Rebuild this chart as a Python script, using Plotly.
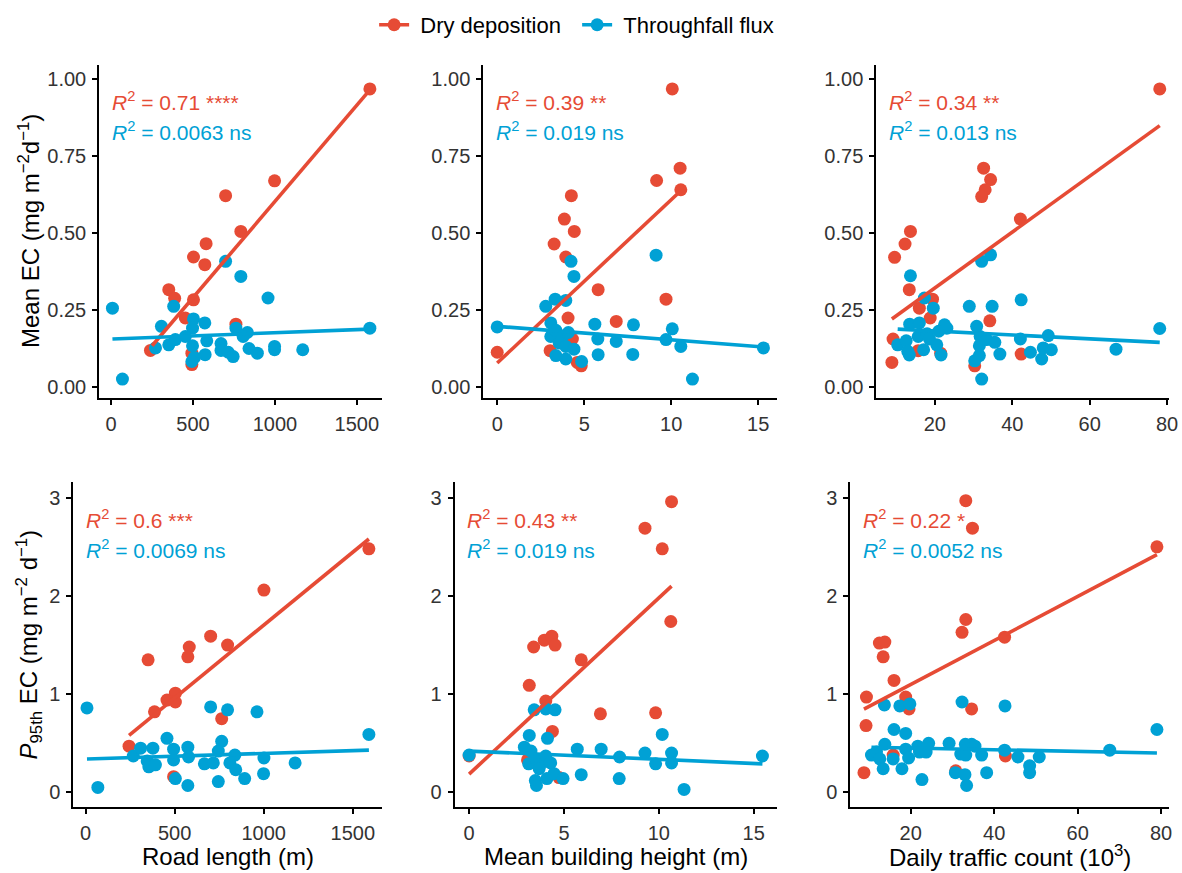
import plotly.graph_objects as go

W, H = 1182, 873
RED = "#E64B35"
BLUE = "#00A1D5"

# ---------------- data ----------------
# Panel 1: road length vs mean EC
p1_dry_x = [1580, 998, 699, 792, 580, 503, 572, 352, 388, 503, 453, 762, 240, 493, 493]
p1_dry_y = [0.968, 0.670, 0.622, 0.506, 0.466, 0.423, 0.398, 0.317, 0.289, 0.284, 0.225, 0.205, 0.120, 0.111, 0.074]
p1_tf_x = [8, 69, 699, 792, 958, 382, 307, 503, 572, 497, 762, 832, 806, 1580, 271, 352, 392, 453, 584, 497,
           671, 671, 715, 745, 842, 893, 998, 998, 1170, 574, 509, 493]
p1_tf_y = [0.257, 0.027, 0.409, 0.360, 0.290, 0.263, 0.198, 0.222, 0.209, 0.192, 0.192, 0.178, 0.165, 0.192,
           0.128, 0.138, 0.155, 0.165, 0.151, 0.135, 0.142, 0.120, 0.114, 0.100, 0.126, 0.111, 0.133, 0.122,
           0.122, 0.106, 0.097, 0.084]
p1_fit_dry_x = [250, 1580]
p1_fit_dry_y = [0.135, 0.965]
p1_fit_tf_x = [8, 1580]
p1_fit_tf_y = [0.157, 0.189]

# Panel 2: building height vs mean EC
p2_dry_x = [10.06, 10.51, 9.16, 10.55, 4.26, 3.86, 4.43, 3.27, 3.94, 5.80, 9.70, 4.07, 6.84, 0.0, 3.04, 4.32, 4.60, 4.83]
p2_dry_y = [0.968, 0.711, 0.671, 0.641, 0.622, 0.546, 0.506, 0.465, 0.423, 0.317, 0.286, 0.225, 0.214, 0.114,
            0.119, 0.157, 0.081, 0.070]
p2_tf_x = [0.0, 4.24, 4.41, 9.13, 2.79, 3.33, 3.94, 3.08, 3.08, 3.37, 3.75, 4.09, 3.56, 3.94, 4.41, 3.37, 3.94,
           4.85, 5.61, 5.78, 5.80, 6.84, 7.83, 7.79, 9.70, 10.06, 10.55, 11.22, 15.30]
p2_tf_y = [0.196, 0.409, 0.360, 0.429, 0.263, 0.286, 0.282, 0.209, 0.165, 0.185, 0.165, 0.178, 0.144, 0.133,
           0.124, 0.103, 0.092, 0.084, 0.205, 0.157, 0.106, 0.149, 0.203, 0.107, 0.155, 0.190, 0.133, 0.027, 0.128]
p2_fit_dry_x = [0.0, 10.55]
p2_fit_dry_y = [0.079, 0.638]
p2_fit_tf_x = [0.0, 15.3]
p2_fit_tf_y = [0.198, 0.131]

# Panel 3: traffic count vs mean EC
p3_dry_x = [78.1, 42.1, 32.6, 34.4, 33.0, 32.1, 13.7, 12.3, 9.6, 13.4, 19.4, 16.0, 18.8, 34.2, 9.2, 15.7, 21.5,
            42.3, 8.9, 30.3]
p3_dry_y = [0.968, 0.546, 0.711, 0.674, 0.641, 0.619, 0.506, 0.465, 0.422, 0.317, 0.286, 0.257, 0.225, 0.216,
            0.157, 0.119, 0.111, 0.108, 0.081, 0.070]
p3_tf_x = [78.1, 66.8, 13.7, 32.1, 34.4, 17.3, 19.6, 28.9, 34.8, 42.3, 10.4, 12.6, 13.5, 16.0, 15.7, 13.0, 13.4,
           17.1, 18.0, 18.6, 20.5, 21.6, 21.0, 22.5, 23.1, 30.8, 31.7, 31.5, 33.4, 35.5, 36.8, 30.3, 31.5, 32.1,
           42.1, 44.7, 47.6, 48.0, 49.3, 50.1]
p3_tf_y = [0.191, 0.124, 0.362, 0.409, 0.430, 0.290, 0.257, 0.263, 0.263, 0.284, 0.138, 0.151, 0.205, 0.209,
           0.165, 0.117, 0.105, 0.122, 0.174, 0.157, 0.138, 0.105, 0.182, 0.203, 0.192, 0.198, 0.165, 0.135,
           0.155, 0.146, 0.108, 0.086, 0.103, 0.027, 0.157, 0.114, 0.092, 0.128, 0.168, 0.122]
p3_fit_dry_x = [8.9, 78.1]
p3_fit_dry_y = [0.222, 0.849]
p3_fit_tf_x = [10.4, 78.1]
p3_fit_tf_y = [0.189, 0.146]

# Panel 4: road length vs P95 EC
p4_dry_x = [1590, 1001, 702, 797, 582, 574, 351, 504, 457, 504, 387, 764, 244, 494]
p4_dry_y = [2.48, 2.06, 1.59, 1.50, 1.48, 1.38, 1.35, 1.01, 0.94, 0.92, 0.82, 0.75, 0.47, 0.16]
p4_tf_x = [8, 69, 1590, 702, 797, 962, 457, 764, 268, 309, 378, 346, 355, 392, 494, 494, 574, 578, 504, 574, 667,
           717, 745, 745, 810, 838, 843, 893, 1001, 999, 1176]
p4_tf_y = [0.86, 0.05, 0.59, 0.87, 0.84, 0.82, 0.55, 0.52, 0.37, 0.45, 0.45, 0.32, 0.26, 0.28, 0.44, 0.33, 0.46,
           0.36, 0.14, 0.07, 0.29, 0.30, 0.42, 0.11, 0.30, 0.38, 0.23, 0.14, 0.35, 0.19, 0.30]
p4_fit_dry_x = [244, 1590]
p4_fit_dry_y = [0.58, 2.58]
p4_fit_tf_x = [8, 1590]
p4_fit_tf_y = [0.34, 0.43]

# Panel 5: building height vs P95 EC
p5_dry_x = [10.67, 9.27, 10.18, 10.63, 3.40, 3.96, 4.36, 4.53, 5.91, 3.17, 4.04, 6.92, 9.83, 4.39, 0.0, 3.08, 4.74]
p5_dry_y = [2.96, 2.69, 2.48, 1.74, 1.48, 1.55, 1.59, 1.50, 1.35, 1.09, 0.93, 0.80, 0.81, 0.62, 0.37, 0.33, 0.15]
p5_tf_x = [0.0, 15.46, 11.33, 3.43, 4.04, 4.53, 3.17, 4.13, 10.18, 2.91, 3.26, 3.14, 3.52, 3.78, 4.04, 4.30, 3.69,
           3.49, 3.55, 4.10, 4.48, 4.95, 5.70, 5.91, 6.96, 7.93, 7.91, 9.27, 9.83, 10.67, 10.67]
p5_tf_y = [0.38, 0.37, 0.03, 0.84, 0.85, 0.84, 0.58, 0.55, 0.59, 0.46, 0.42, 0.29, 0.34, 0.29, 0.37, 0.30, 0.24,
           0.12, 0.07, 0.14, 0.19, 0.14, 0.44, 0.18, 0.44, 0.36, 0.14, 0.40, 0.29, 0.40, 0.30]
p5_fit_dry_x = [0.0, 10.67]
p5_fit_dry_y = [0.186, 2.10]
p5_fit_tf_x = [0.0, 15.46]
p5_fit_tf_y = [0.42, 0.29]

# Panel 6: traffic count vs P95 EC
p6_dry_x = [79.0, 33.2, 34.8, 33.2, 32.3, 42.5, 12.5, 13.8, 13.4, 16.0, 9.4, 18.8, 19.6, 34.6, 9.3, 15.8, 42.7,
            8.8, 30.8]
p6_dry_y = [2.50, 2.97, 2.69, 1.76, 1.63, 1.58, 1.52, 1.53, 1.38, 1.14, 0.97, 0.97, 0.85, 0.85, 0.68, 0.38, 0.37,
            0.20, 0.22]
p6_tf_x = [79.0, 67.7, 13.7, 17.4, 19.8, 32.3, 42.6, 16.0, 18.8, 10.6, 11.8, 13.8, 12.6, 15.8, 13.4, 17.9, 18.8,
           19.5, 21.7, 22.1, 23.7, 24.3, 22.7, 29.2, 32.0, 33.1, 33.2, 34.6, 35.4, 37.0, 30.7, 33.0, 33.4, 38.2,
           42.5, 45.7, 48.5, 48.5, 50.8]
p6_tf_y = [0.64, 0.43, 0.89, 0.88, 0.90, 0.92, 0.88, 0.64, 0.60, 0.38, 0.41, 0.49, 0.34, 0.34, 0.24, 0.24, 0.44,
           0.35, 0.47, 0.41, 0.41, 0.50, 0.13, 0.50, 0.39, 0.49, 0.38, 0.49, 0.47, 0.38, 0.20, 0.18, 0.07, 0.20,
           0.43, 0.36, 0.27, 0.20, 0.36]
p6_fit_dry_x = [8.8, 79.0]
p6_fit_dry_y = [0.847, 2.42]
p6_fit_tf_x = [10.6, 79.0]
p6_fit_tf_y = [0.46, 0.40]

r2_dry = ["0.71 ****", "0.39 **", "0.34 **", "0.6 ***", "0.43 **", "0.22 *"]
r2_tf = ["0.0063 ns", "0.019 ns", "0.013 ns", "0.0069 ns", "0.019 ns", "0.0052 ns"]

x_titles = ["Road length (m)", "Mean building height (m)", "Daily traffic count (10<sup>3</sup>)"]
y_titles = ["Mean EC (mg m<sup>\u22122</sup>d<sup>\u22121</sup>)",
            "<i>P</i><sub>95th</sub> EC (mg m<sup>\u22122</sup> d<sup>\u22121</sup>)"]
legend_names = ["Dry deposition", "Throughfall flux"]

x_ticks = [[0, 500, 1000, 1500], [0, 5, 10, 15], [20, 40, 60, 80]]
top_y_ticks = [0.0, 0.25, 0.5, 0.75, 1.0]
bot_y_ticks = [0, 1, 2, 3]

# ---------------- layout geometry (pixels) ----------------
panels_px = [  # x0, x1, y0(top), y1(bottom)
    (100, 385, 65, 398), (487, 783, 65, 398), (883, 1178, 65, 398),
    (74, 385, 483, 808), (458, 783, 483, 808), (857, 1178, 483, 808),
]
x_ranges = [(-72.7, 1654.5), (-0.80, 16.08), (4.87, 80.5),
            (-68, 1664), (-0.77, 16.23), (5.57, 81.9)]
y_ranges = [(-0.033, 1.046)] * 3 + [(-0.15, 3.156)] * 3
x_minor = [250, 2.5, 10, 250, 2.5, 10]
y_minor = [0.125] * 3 + [0.5] * 3

panel_data = [
    (p1_dry_x, p1_dry_y, p1_tf_x, p1_tf_y, p1_fit_dry_x, p1_fit_dry_y, p1_fit_tf_x, p1_fit_tf_y),
    (p2_dry_x, p2_dry_y, p2_tf_x, p2_tf_y, p2_fit_dry_x, p2_fit_dry_y, p2_fit_tf_x, p2_fit_tf_y),
    (p3_dry_x, p3_dry_y, p3_tf_x, p3_tf_y, p3_fit_dry_x, p3_fit_dry_y, p3_fit_tf_x, p3_fit_tf_y),
    (p4_dry_x, p4_dry_y, p4_tf_x, p4_tf_y, p4_fit_dry_x, p4_fit_dry_y, p4_fit_tf_x, p4_fit_tf_y),
    (p5_dry_x, p5_dry_y, p5_tf_x, p5_tf_y, p5_fit_dry_x, p5_fit_dry_y, p5_fit_tf_x, p5_fit_tf_y),
    (p6_dry_x, p6_dry_y, p6_tf_x, p6_tf_y, p6_fit_dry_x, p6_fit_dry_y, p6_fit_tf_x, p6_fit_tf_y),
]

FONT = "Liberation Sans, Arial, Helvetica, sans-serif"
TICK_FONT = dict(family=FONT, size=20, color="#333333")
TITLE_SIZE = 24
ANN_SIZE = 21
MSIZE = 13
LW = 3.6


def px2x(p):
    return p / W


def px2y(p):
    return 1 - p / H


def ax(name, i):
    return name if i == 1 else f"{name}{i}"


fig = go.Figure()
layout = {}
annotations = []

for k in range(6):
    i = k + 1
    xa, ya = ax("x", i), ax("y", i)
    dx, dy, tx, ty, fdx, fdy, ftx, fty = panel_data[k]
    fig.add_trace(go.Scatter(x=dx, y=dy, mode="markers", xaxis=xa, yaxis=ya,
                             marker=dict(color=RED, size=MSIZE, line=dict(width=0)), showlegend=False))
    fig.add_trace(go.Scatter(x=tx, y=ty, mode="markers", xaxis=xa, yaxis=ya,
                             marker=dict(color=BLUE, size=MSIZE, line=dict(width=0)), showlegend=False))
    fig.add_trace(go.Scatter(x=fdx, y=fdy, mode="lines", xaxis=xa, yaxis=ya,
                             line=dict(color=RED, width=LW), showlegend=False))
    fig.add_trace(go.Scatter(x=ftx, y=fty, mode="lines", xaxis=xa, yaxis=ya,
                             line=dict(color=BLUE, width=LW), showlegend=False))

    x0, x1, y0, y1 = panels_px[k]
    xdom = [px2x(x0), px2x(x1)]
    ydom = [px2y(y1), px2y(y0)]
    col = k % 3
    row = k // 3
    xt = x_ticks[col]
    yt = top_y_ticks if row == 0 else bot_y_ticks
    layout[ax("xaxis", i)] = dict(
        domain=xdom, anchor=ya, range=list(x_ranges[k]), tickvals=xt, ticktext=[str(v) for v in xt],
        showline=True, linecolor="black", linewidth=2, mirror=False,
        ticks="outside", ticklen=5, tickwidth=1.5, tickcolor="black",
        showgrid=False, zeroline=False, tickfont=TICK_FONT, ticklabelstandoff=2,
        ticklabeloverflow="allow")
    layout[ax("yaxis", i)] = dict(
        domain=ydom, anchor=xa, range=list(y_ranges[k]), tickvals=yt,
        ticktext=[f"{v:.2f}" for v in yt] if row == 0 else [str(v) for v in yt],
        showline=True, linecolor="black", linewidth=2, mirror=False,
        ticks="outside", ticklen=5, tickwidth=1.5, tickcolor="black",
        showgrid=False, zeroline=False, tickfont=TICK_FONT, ticklabelstandoff=2,
        ticklabeloverflow="allow")
    # top / right frame with minor ticks
    layout[ax("xaxis", i + 6)] = dict(
        overlaying=xa, anchor=ya, side="top", range=list(x_ranges[k]),
        tick0=0, dtick=x_minor[k], ticks="outside", ticklen=3, tickwidth=1, tickcolor="#9a9a9a",
        showline=True, linecolor="#444444", linewidth=1.3, showticklabels=False,
        showgrid=False, zeroline=False)
    layout[ax("yaxis", i + 6)] = dict(
        overlaying=ya, anchor=xa, side="right", range=list(y_ranges[k]),
        tick0=0, dtick=y_minor[k], ticks="outside", ticklen=3, tickwidth=1, tickcolor="#9a9a9a",
        showline=True, linecolor="#444444", linewidth=1.3, showticklabels=False,
        showgrid=False, zeroline=False)

    # R^2 annotations
    ty1 = y0 + 36.5 if row == 0 else y0 + 37
    annotations.append(dict(
        xref="paper", yref="paper", x=px2x(x0 + 11), y=px2y(ty1), xanchor="left", yanchor="middle",
        text=f"<i>R</i><sup>2</sup> = {r2_dry[k]}", showarrow=False,
        font=dict(family=FONT, size=ANN_SIZE, color=RED)))
    annotations.append(dict(
        xref="paper", yref="paper", x=px2x(x0 + 11), y=px2y(ty1 + 30), xanchor="left", yanchor="middle",
        text=f"<i>R</i><sup>2</sup> = {r2_tf[k]}", showarrow=False,
        font=dict(family=FONT, size=ANN_SIZE, color=BLUE)))

# axis titles
for col in range(3):
    x0, x1, y0, y1 = panels_px[3 + col]
    annotations.append(dict(
        xref="paper", yref="paper", x=px2x((x0 + x1) / 2), y=px2y(857), xanchor="center", yanchor="middle",
        text=x_titles[col], showarrow=False, font=dict(family=FONT, size=TITLE_SIZE, color="black")))
for row in range(2):
    x0, x1, y0, y1 = panels_px[3 * row]
    annotations.append(dict(
        xref="paper", yref="paper", x=px2x(29), y=px2y((y0 + y1) / 2), xanchor="center", yanchor="middle",
        text=y_titles[row], textangle=-90, showarrow=False,
        font=dict(family=FONT, size=TITLE_SIZE, color="black")))

# legend entries
for name, c in zip(legend_names, [RED, BLUE]):
    fig.add_trace(go.Scatter(x=[None], y=[None], mode="lines+markers", name="\u00a0" + name,
                             line=dict(color=c, width=LW), marker=dict(color=c, size=MSIZE),
                             xaxis="x", yaxis="y", showlegend=True))

fig.update_layout(
    width=W, height=H, autosize=False,
    margin=dict(l=0, r=0, t=0, b=0),
    paper_bgcolor="white", plot_bgcolor="white",
    font=dict(family=FONT, color="black"),
    annotations=annotations,
    legend=dict(orientation="h", x=px2x(377), xanchor="left", y=px2y(25), yanchor="middle",
                font=dict(family=FONT, size=22, color="black"), itemwidth=30, entrywidth=158,
                bgcolor="rgba(0,0,0,0)", traceorder="normal"),
    **layout,
)

fig.write_html("out.html")
